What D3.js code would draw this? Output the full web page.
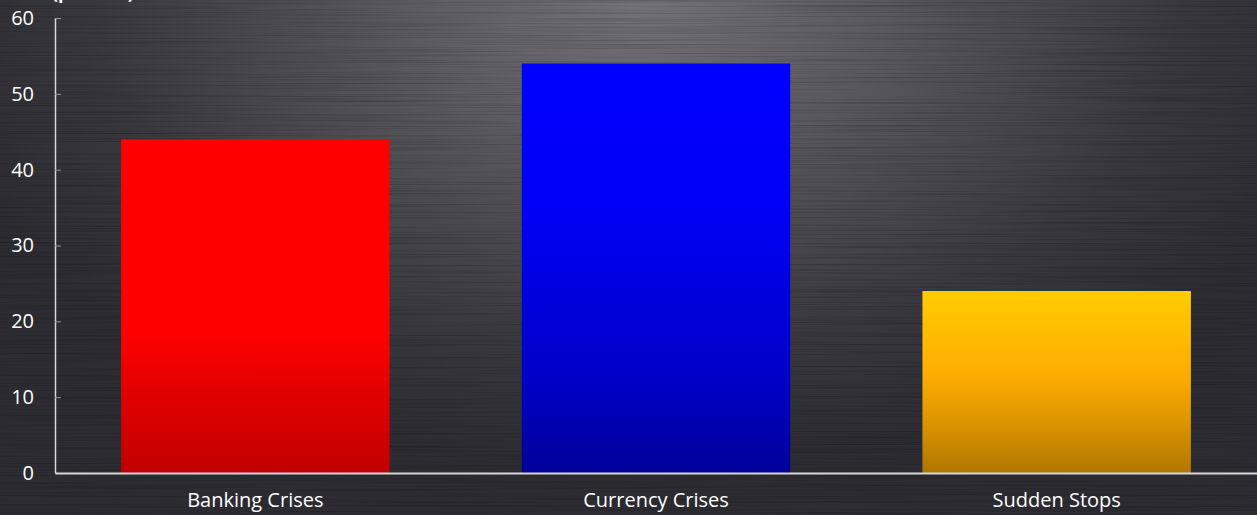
<!DOCTYPE html>
<html><head><meta charset="utf-8">
<script src="https://cdn.jsdelivr.net/npm/d3@7"></script>
<style>html,body{margin:0;padding:0;background:#2c2c32;overflow:hidden}</style>
</head><body>
<svg id="chart" width="1257" height="515"></svg>
<script>
const categories = ["Banking Crises", "Currency Crises", "Sudden Stops"];
const values = [44, 54, 24];
const yTicks = [0, 10, 20, 30, 40, 50, 60];
const unitLabel = "(percent)";

const W = 1257, H = 515;
const svg = d3.select("#chart");
const defs = svg.append("defs");

// background radial glow
const rg = defs.append("radialGradient").attr("id","bg").attr("gradientUnits","userSpaceOnUse")
  .attr("cx",640).attr("cy",0).attr("r",720).attr("gradientTransform","translate(640,0) scale(1,0.65) translate(-640,0)");
rg.append("stop").attr("offset",0).attr("stop-color","#727278");
rg.append("stop").attr("offset",0.35).attr("stop-color","#58585e");
rg.append("stop").attr("offset",0.75).attr("stop-color","#38383e");
rg.append("stop").attr("offset",1).attr("stop-color","#2c2c32");

// brushed texture filter
const f = defs.append("filter").attr("id","brush").attr("x",0).attr("y",0).attr("width","100%").attr("height","100%");
f.append("feTurbulence").attr("type","fractalNoise").attr("baseFrequency","0.004 0.9").attr("numOctaves",2).attr("seed",3).attr("result","n");
f.append("feColorMatrix").attr("in","n").attr("type","matrix")
  .attr("values","0 0 0 0 0  0 0 0 0 0  0 0 0 0 0  0 0 0 -1.4 0.75").attr("result","a");
f.append("feComposite").attr("in","a").attr("in2","SourceGraphic").attr("operator","in");

svg.append("rect").attr("width",W).attr("height",H).attr("fill","url(#bg)");
svg.append("rect").attr("width",W).attr("height",H).attr("fill","#000").attr("opacity",0.35).attr("filter","url(#brush)");

// bar gradients
const gradStops = [
  [[0,"#ff0000"],[0.57,"#ff0000"],[0.75,"#e40000"],[1,"#c00000"]],
  [[0,"#0000ff"],[0.33,"#0000f8"],[0.78,"#0000c6"],[1,"#000098"]],
  [[0,"#ffcc00"],[0.45,"#ffae00"],[0.75,"#d89200"],[1,"#b07600"]]
];
gradStops.forEach((st,i)=>{
  const g = defs.append("linearGradient").attr("id","g"+i).attr("x1",0).attr("y1",0).attr("x2",0).attr("y2",1);
  st.forEach(s=>g.append("stop").attr("offset",s[0]).attr("stop-color",s[1]));
});

const x = d3.scaleBand().domain(categories).range([55, 1257]).paddingInner(0.33).paddingOuter(0.165);
const y = d3.scaleLinear().domain([0,60]).range([473, 18]);

svg.append("g").selectAll("rect").data(categories).join("rect")
  .attr("x", d=>x(d)).attr("width", x.bandwidth())
  .attr("y", (d,i)=>y(values[i])).attr("height",(d,i)=>y(0)-y(values[i]))
  .attr("fill",(d,i)=>"url(#g"+i+")");

const font = "'Open Sans', 'Noto Sans', sans-serif";
// y axis
const ya = svg.append("g").attr("transform","translate(55,0)")
  .call(d3.axisRight(y).tickValues(yTicks).tickSize(6));
ya.select(".domain").attr("stroke","#d8d8d8").attr("stroke-width",1.5).attr("d","M0.5,"+y(60)+"V"+y(0));
ya.selectAll(".tick line").attr("stroke","#9a9a9a");
ya.selectAll(".tick text").attr("fill","#ffffff").attr("text-anchor","end").attr("font-family",font).attr("font-size",20).attr("x",-21);

// x axis
const xa = svg.append("g").attr("transform","translate(0,473)")
  .call(d3.axisBottom(x).tickSize(0).tickPadding(20));
xa.select(".domain").attr("stroke","#d8d8d8").attr("stroke-width",2);
xa.selectAll(".tick text").attr("fill","#ffffff").attr("font-family",font).attr("font-size",20);

svg.append("text").attr("x",52).attr("y",-1).attr("fill","#ffffff").attr("font-family",font)
  .attr("font-size",18).attr("font-weight","bold").text(unitLabel);
</script>
</body></html>
